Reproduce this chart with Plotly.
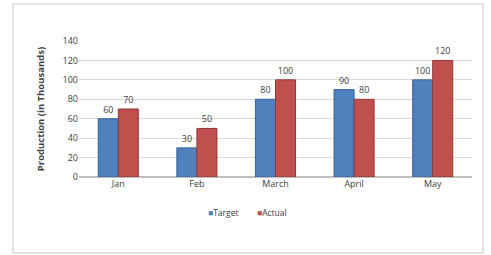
import plotly.graph_objects as go

months = ["Jan", "Feb", "March", "April", "May"]
target = [60, 30, 80, 90, 100]
actual = [70, 50, 100, 80, 120]
y_ticks = [0, 20, 40, 60, 80, 100, 120, 140]

W, H = 491, 255
L, R, T, B = 79, 19, 41, 78
pw, ph = W - L - R, H - T - B

def px(x):
    return (x - L) / pw

def py(y):
    return (H - B - y) / ph

BLUE, RED = "#4F81BD", "#C0504D"

fig = go.Figure()
fig.add_trace(go.Bar(name="Target", x=months, y=target, text=target, showlegend=False,
                     textposition="outside", marker=dict(color=BLUE, line=dict(color="#3A6496", width=1)),
                     cliponaxis=False))
fig.add_trace(go.Bar(name="Actual", x=months, y=actual, text=actual, showlegend=False,
                     textposition="outside", marker=dict(color=RED, line=dict(color="#8E3A38", width=1)),
                     cliponaxis=False))

legend_items = [("Target", BLUE, 206), ("Actual", RED, 255)]
annotations = [dict(text=f"<span style='color:{col}'>■</span>{name}", xref="paper", yref="paper",
                    x=px(xp), y=py(212), xanchor="left", yanchor="middle", showarrow=False,
                    font=dict(size=8.5, color="#404040"))
               for name, col, xp in legend_items]

fig.update_layout(
    width=W, height=H,
    margin=dict(l=L, r=R, t=T, b=B, autoexpand=False),
    paper_bgcolor="white", plot_bgcolor="white",
    barmode="group", bargap=0.49, bargroupgap=0,
    font=dict(family="Open Sans, Arial, sans-serif", size=9, color="#404040"),
    uniformtext=dict(minsize=9, mode="show"),
    showlegend=False,
    xaxis=dict(showgrid=False, showline=False, ticks="", tickfont=dict(size=9, color="#404040")),
    yaxis=dict(range=[0, 140], tickvals=y_ticks, showgrid=True, gridcolor="#D9D9D9",
               zeroline=True, zerolinecolor="#BFBFBF", showline=False,
               tickfont=dict(size=9, color="#404040"), ticks="", ticklen=0,
               title=dict(text="<b>Production (in Thousands)</b>", font=dict(size=9.5, color="#404040"), standoff=16)),
    annotations=annotations,
    shapes=[dict(type="rect", xref="paper", yref="paper",
                 x0=px(13), x1=px(483), y0=py(253), y1=py(4),
                 line=dict(color="#D9D9D9", width=1.5), layer="below")],
)

fig.write_html("out.html", config={"displayModeBar": False},
               post_script="document.body.style.margin='0';document.body.style.overflow='hidden';")
